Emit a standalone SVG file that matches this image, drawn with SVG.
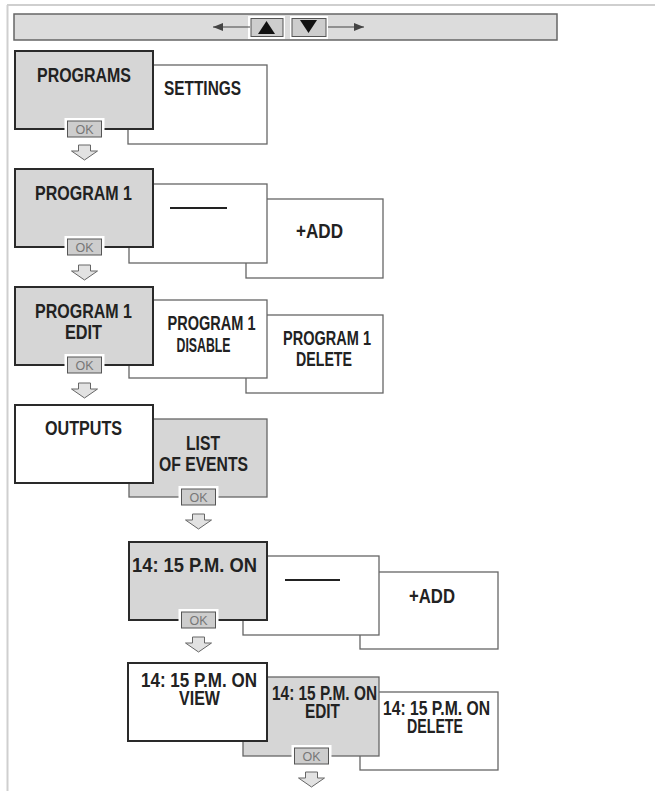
<svg xmlns="http://www.w3.org/2000/svg" width="655" height="791" viewBox="0 0 655 791">
<defs>
<style>
.frame{stroke:#cfcfcf;stroke-width:2;fill:none}
.bar{fill:#dcdcdc;stroke:#666;stroke-width:1.5}
.front{stroke:#2a2a2a;stroke-width:2}
.back{stroke:#666;stroke-width:1.3}
.g{fill:#d6d6d6}
.w{fill:#fff}
.t{font-family:"Liberation Sans Narrow","Liberation Sans",Arial,sans-serif;font-weight:bold;font-size:21px;fill:#222;text-anchor:middle}
.ts{font-size:20px}
.halo{fill:#fff}
.okb{fill:#cdcdcd;stroke:#555;stroke-width:1}
.okt{font-family:"Liberation Sans",Arial,sans-serif;font-size:12.5px;fill:#777;text-anchor:middle}
.dn{fill:#e2e2e2;stroke:#666;stroke-width:1;stroke-linejoin:miter}
.dash{stroke:#222;stroke-width:2}
.ln{stroke:#444;stroke-width:1.2;fill:none}
</style>
<marker id="ah" viewBox="0 0 10 8" refX="10" refY="4" markerWidth="10" markerHeight="8" markerUnits="userSpaceOnUse" orient="auto">
<path d="M0,0 L10,4 L0,8 Z" fill="#444"/>
</marker>
<g id="ok">
<rect class="halo" x="-20" y="-11" width="40" height="23"/>
<rect class="okb" x="-17" y="-8" width="34" height="16"/>
<text class="okt" x="0" y="4.5">OK</text>
</g>
<path id="down" class="dn" d="M-6,0 H6 V6 H13 L0,15 L-13,6 H-6 Z"/>
</defs>

<!-- frame -->
<line class="frame" x1="7" y1="5" x2="655" y2="5"/>
<line class="frame" x1="7.5" y1="5" x2="7.5" y2="791"/>

<!-- top navigation bar -->
<g id="navbar">
<rect class="bar" x="14" y="14" width="543" height="26"/>
<rect class="halo" x="248" y="16" width="37" height="23"/>
<rect class="halo" x="290" y="16" width="38" height="23"/>
<rect class="okb" x="251" y="18.5" width="32" height="18"/>
<rect class="okb" x="292" y="18.5" width="34" height="18"/>
<path d="M258,34 L266.5,21 L275,34 Z" fill="#111"/>
<path d="M300,20 L317,20 L308.5,33 Z" fill="#111"/>
</g>
<g id="connectors">
<line class="ln" x1="250" y1="27" x2="213" y2="27" marker-end="url(#ah)"/>
<line class="ln" x1="328" y1="27" x2="364" y2="27" marker-end="url(#ah)"/>
</g>

<!-- Row 1 -->
<g id="settings"><rect class="w back" x="128" y="65" width="139" height="79"/><text class="t" x="202.5" y="95" textLength="77" lengthAdjust="spacingAndGlyphs">SETTINGS</text></g>
<g id="programs"><rect class="g front" x="15" y="51" width="138" height="78"/><text class="t" x="84" y="82" textLength="94" lengthAdjust="spacingAndGlyphs">PROGRAMS</text>
<use href="#ok" x="84.5" y="129"/><use href="#down" x="84.5" y="145"/></g>

<!-- Row 2 -->
<g id="add1"><rect class="w back" x="246" y="199" width="137" height="79"/><text class="t" x="319.5" y="238" textLength="47" lengthAdjust="spacingAndGlyphs">+ADD</text></g>
<g id="blank1"><rect class="w back" x="129" y="184" width="138" height="79"/><line class="dash" x1="170" y1="208" x2="227" y2="208"/></g>
<g id="program1"><rect class="g front" x="15" y="169" width="138" height="78"/><text class="t" x="83.5" y="200" textLength="97" lengthAdjust="spacingAndGlyphs">PROGRAM 1</text>
<use href="#ok" x="84.5" y="247"/><use href="#down" x="84.5" y="265"/></g>

<!-- Row 3 -->
<g id="p1delete"><rect class="w back" x="246" y="315" width="137" height="78"/><text class="t" x="327" y="345" textLength="88" lengthAdjust="spacingAndGlyphs">PROGRAM 1</text><text class="t" x="324" y="366" textLength="56" lengthAdjust="spacingAndGlyphs">DELETE</text></g>
<g id="p1disable"><rect class="w back" x="129" y="300" width="138" height="78"/><text class="t" x="211.5" y="330" textLength="88" lengthAdjust="spacingAndGlyphs">PROGRAM 1</text><text class="t" x="203.5" y="352" textLength="54" lengthAdjust="spacingAndGlyphs">DISABLE</text></g>
<g id="p1edit"><rect class="g front" x="15" y="287" width="138" height="78"/><text class="t" x="83.5" y="318" textLength="97" lengthAdjust="spacingAndGlyphs">PROGRAM 1</text><text class="t" x="83.5" y="339" textLength="37" lengthAdjust="spacingAndGlyphs">EDIT</text>
<use href="#ok" x="84.5" y="365"/><use href="#down" x="84.5" y="383"/></g>

<!-- Row 4 -->
<g id="listevents"><rect class="g back" x="129" y="419" width="138" height="78"/><text class="t" x="203" y="450" textLength="34" lengthAdjust="spacingAndGlyphs">LIST</text><text class="t" x="203.5" y="471" textLength="89" lengthAdjust="spacingAndGlyphs">OF EVENTS</text>
<use href="#ok" x="198.5" y="497"/><use href="#down" x="198.5" y="514"/></g>
<g id="outputs"><rect class="w front" x="15" y="405" width="138" height="78"/><text class="t" x="83.5" y="435" textLength="77" lengthAdjust="spacingAndGlyphs">OUTPUTS</text></g>

<!-- Row 5 -->
<g id="add2"><rect class="w back" x="360" y="572" width="138" height="77"/><text class="t" x="432" y="603" textLength="46" lengthAdjust="spacingAndGlyphs">+ADD</text></g>
<g id="blank2"><rect class="w back" x="243" y="556" width="136" height="79"/><line class="dash" x1="285" y1="580" x2="340" y2="580"/></g>
<g id="event"><rect class="g front" x="129" y="542" width="138" height="78"/><text class="t" x="194.5" y="572" textLength="125" lengthAdjust="spacingAndGlyphs">14: 15 P.M. ON</text>
<use href="#ok" x="198.5" y="620"/><use href="#down" x="198.5" y="637"/></g>

<!-- Row 6 -->
<g id="eventdelete"><rect class="w back" x="360" y="692" width="138" height="78"/><text class="t ts" x="436.5" y="715" textLength="107" lengthAdjust="spacingAndGlyphs">14: 15 P.M. ON</text><text class="t ts" x="435" y="733" textLength="56" lengthAdjust="spacingAndGlyphs">DELETE</text></g>
<g id="eventedit"><rect class="g back" x="243" y="677" width="136" height="79"/><text class="t ts" x="324.5" y="700" textLength="105" lengthAdjust="spacingAndGlyphs">14: 15 P.M. ON</text><text class="t ts" x="322.5" y="718" textLength="35" lengthAdjust="spacingAndGlyphs">EDIT</text>
<use href="#ok" x="311.5" y="756"/><use href="#down" x="311.5" y="772"/></g>
<g id="eventview"><rect class="w front" x="128" y="663" width="139" height="78"/><text class="t ts" x="199" y="687" textLength="116" lengthAdjust="spacingAndGlyphs">14: 15 P.M. ON</text><text class="t ts" x="199.5" y="705" textLength="41" lengthAdjust="spacingAndGlyphs">VIEW</text></g>
</svg>
